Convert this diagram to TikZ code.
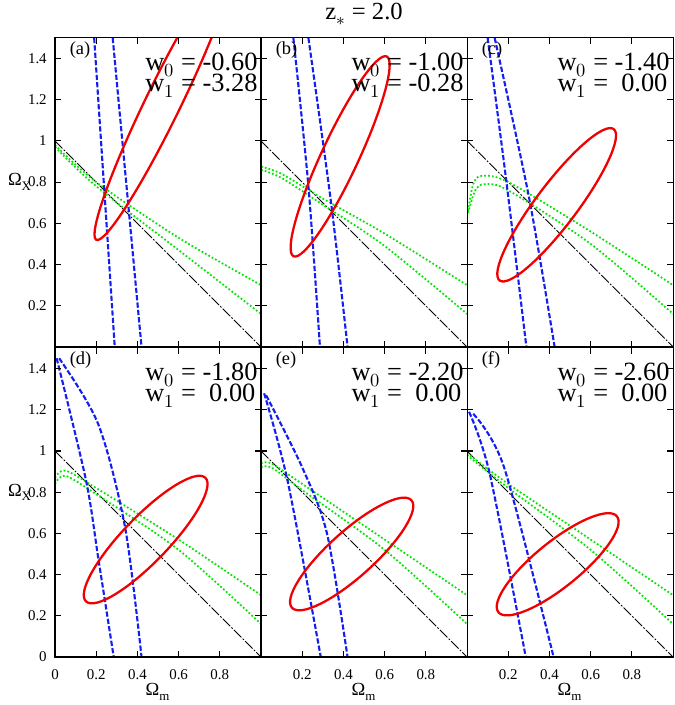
\documentclass[tikz,border=0pt]{standalone}
\usepackage{fontspec}
\setmainfont{Liberation Serif}
\usepackage{unicode-math}
\setmathfont{Latin Modern Math}
\usetikzlibrary{positioning}
\definecolor{plotgreen}{RGB}{0,230,0}
\definecolor{plotblue}{RGB}{20,30,240}
\definecolor{plotred}{RGB}{240,0,0}
\tikzstyle{frame}=[draw=black,line width=0.6pt]
\tikzstyle{diag}=[draw=black,line width=0.5pt,dash pattern=on 6pt off 1pt on 1pt off 1pt]
\tikzstyle{greenline}=[draw=plotgreen,line width=1pt,dash pattern=on 1pt off 1.2pt]
\tikzstyle{blueline}=[draw=plotblue,line width=1.2pt,dash pattern=on 3pt off 1.2pt]
\tikzstyle{redline}=[draw=plotred,line width=1.3pt]
\tikzstyle{ticklabel}=[font=\fontsize{8.5}{9}\selectfont,inner sep=1pt]
\tikzstyle{panellabel}=[font=\fontsize{10.5}{11}\selectfont,anchor=north west,inner sep=0pt]
\tikzstyle{wlabel}=[font=\fontsize{15}{15}\selectfont,anchor=north east,inner sep=0pt,align=left]
\tikzstyle{axislabel}=[font=\fontsize{10.5}{11}\selectfont]

\begin{document}
\begin{tikzpicture}[x=4.12cm,y=4.12cm]
    \useasboundingbox (-0.267,-0.233) rectangle (3.005,3.189);
    % title
    \node[font=\fontsize{14}{14}\selectfont] (title) at (1.5,3.12) {z$_{\ast}$ = 2.0};
    % panels: shift / label / w0 / w1 / green upper / green lower / blue left / blue right / ellipse
    \foreach \sx/\sy/\pname/\wz/\wo/\gu/\gl/\bl/\br/\ex/\ey/\ea/\ema/\emi in {
      {0/1.505/a/-0.60/-3.28/{(0,0.98) (0.2,0.8) (0.6,0.53) (1,0.3)}/{(0,0.97) (0.2,0.78) (0.6,0.47) (1,0.16)}/{(0.19,1.5) (0.29,0)}/{(0.28,1.5) (0.42,0)}/0.525/1.185/64/0.74/0.085},
      {1/1.505/b/-1.00/-0.28/{(0,0.875) (0.1,0.84) (0.3,0.72) (0.6,0.55) (1,0.3)}/{(0,0.86) (0.1,0.82) (0.3,0.69) (0.6,0.49) (1,0.16)}/{(0.157,1.5) (0.23,0.78) (0.286,0)}/{(0.23,1.5) (0.34,0.70) (0.42,0)}/0.384/0.925/65/0.535/0.09},
      {2/1.505/c/-1.40/\ 0.00/{(0.005,0.66) (0.03,0.79) (0.07,0.83) (0.2,0.8) (0.6,0.56) (1,0.3)}/{(0.005,0.65) (0.04,0.76) (0.085,0.79) (0.2,0.76) (0.6,0.5) (1,0.16)}/{(0.10,1.5) (0.19,0.81) (0.288,0)}/{(0.134,1.5) (0.30,0.73) (0.425,0)}/0.435/0.69/53/0.46/0.1},
      {0/0/d/-1.80/\ 0.00/{(0,0.87) (0.05,0.905) (0.2,0.82) (0.6,0.57) (1,0.3)}/{(0,0.84) (0.05,0.88) (0.2,0.79) (0.6,0.52) (1,0.16)}/{(0.008,1.45) (0.15,0.86) (0.21,0.48) (0.285,0)}/{(0.02,1.45) (0.21,1.13) (0.34,0.63) (0.42,0)}/0.44/0.57/46/0.417/0.11},
      {1/0/e/-2.20/\ 0.00/{(0,0.94) (0.05,0.94) (0.2,0.84) (0.6,0.57) (1,0.3)}/{(0,0.92) (0.05,0.92) (0.2,0.81) (0.6,0.52) (1,0.16)}/{(0.015,1.28) (0.13,0.85) (0.29,0)}/{(0.025,1.27) (0.2,0.92) (0.32,0.6) (0.42,0)}/0.44/0.5/42/0.39/0.11},
      {2/0/f/-2.60/\ 0.00/{(0,0.99) (0.2,0.84) (0.6,0.57) (1,0.3)}/{(0,0.98) (0.2,0.82) (0.6,0.52) (1,0.16)}/{(0.01,1.19) (0.11,0.89) (0.285,0)}/{(0.03,1.18) (0.18,0.92) (0.42,0)}/0.44/0.45/39/0.37/0.11}}
    {
    \begin{scope}[shift={(\sx,\sy)}]
      \begin{scope}
        \clip (0,0) rectangle (1,1.5);
        \draw[diag] (0,1) -- (1,0);
        \draw[greenline] plot[smooth] coordinates {\gu};
        \draw[greenline] plot[smooth] coordinates {\gl};
        \draw[blueline] plot[smooth] coordinates {\bl};
        \draw[blueline] plot[smooth] coordinates {\br};
        \draw[redline,rotate around={\ea:(\ex,\ey)}] (\ex,\ey) ellipse [x radius=\ema,y radius=\emi];
      \end{scope}
      \draw[frame] (0,0) rectangle (1,1.5);
      \foreach \t in {0.2,0.4,0.6,0.8} {
        \draw[frame] (\t,0) -- (\t,0.03);
        \draw[frame] (\t,1.5) -- (\t,1.47);
      }
      \foreach \t in {0.2,0.4,...,1.41} {
        \draw[frame] (0,\t) -- (0.03,\t);
        \draw[frame] (1,\t) -- (0.97,\t);
      }
      \node[panellabel] (lab\pname) at (0.07,1.485) {(\pname)};
      \node[wlabel] (w\pname) at (0.985,1.43) {w$_0$ = \wz\\[-3pt]w$_1$ = \wo};
    \end{scope}
    }
    % tick labels
    \foreach \t/\s in {0.2/0.2,0.4/0.4,0.6/0.6,0.8/0.8,1/1,1.2/1.2,1.4/1.4} {
      \node[ticklabel,anchor=east] (ytop\t) at (-0.03,1.505+\t) {\s};
      \node[ticklabel,anchor=east] (ybot\t) at (-0.03,\t) {\s};
    }
    \node[ticklabel,anchor=east] (ybot0) at (-0.03,0) {0};
    \node[ticklabel,anchor=north] (xd0) at (0,-0.05) {0};
    \foreach \px in {0,1,2}
      \foreach \t in {0.2,0.4,0.6,0.8}
        \node[ticklabel,anchor=north] (x\px\t) at (\px+\t,-0.05) {\t};
    % axis labels
    \foreach \px in {0,1,2}
      \node[axislabel] (om\px) at (\px+0.5,-0.17) {Ω$_{\mathrm{m}}$};
    \node[axislabel] (oxtop) at (-0.17,1.505+0.8) {Ω$_{\mathrm{X}}$};
    \node[axislabel] (oxbot) at (-0.17,0.8) {Ω$_{\mathrm{X}}$};
\end{tikzpicture}
\end{document}
